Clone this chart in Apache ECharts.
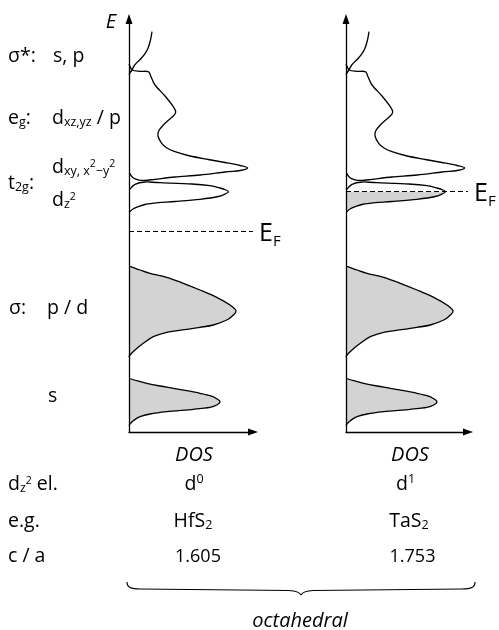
<!DOCTYPE html>
<html><head><meta charset="utf-8">
<script src="https://cdn.jsdelivr.net/npm/echarts@6/dist/echarts.min.js"></script>
<style>html,body{margin:0;padding:0;background:#fff}#c{width:499px;height:630px}</style>
</head><body><div id="c"></div>
<script>
const FONT = '"Open Sans", sans-serif';

// ---- data: [DOS, E] in arbitrary schematic units ----
const sigmaStarCurve = [[0,357.5],[3.3,362.7],[5.7,367],[9,370.5],[12.3,373.7],[16,378.3],[19,383.7],[21.5,392],[23,400.3]];
const egT2gCurve = [[0,368],[3.3,362],[11,360.7],[19.3,360.3],[22,355.3],[26,347],[36,336],[44.3,325.3],[46.7,320],[44.3,316],[36,308.7],[29.7,301],[29,296],[32.7,288.7],[38,284],[46,280.3],[61,276],[79.3,272.5],[96,269.5],[111,266.5],[118.7,264],[111,261.5],[96,260],[71,257],[46,255],[26,252.7],[16,251.7],[9,252.2],[4,254.2],[0.7,258.5]];
const dz2Curve = [[0.7,242.5],[6,247.7],[16,250],[31,249.3],[62.7,248],[81,246.3],[91,244],[97,242],[99.5,240.3],[97,238.5],[89.3,235.5],[71,232.7],[46,230.5],[29.3,229.3],[16,227.5],[9.3,225.3],[4,223],[0.7,220.3]];
const sigmaBandCurve = [[0,166],[11,162],[21,158.7],[37.7,154.7],[54.3,148.7],[71,142],[87.7,134.7],[101,127],[107,121.3],[104.3,117],[97.7,112],[84.3,107],[71,104.7],[57.7,102.7],[37.7,99.7],[24.3,95.3],[14.3,88.7],[6,82],[1,77],[0,74.7]];
const sBandCurve = [[0,53.7],[7.7,51.3],[17.7,48.7],[31,46],[44.3,43.7],[57.7,41.3],[71,38.7],[81,36.3],[87.7,33.3],[91,30.3],[87.7,27],[81,24.7],[64.3,22.7],[37.7,20.3],[21,18],[11,15.3],[4.3,11.3],[1,8],[0,6.3]];
const fermiLevels = [200.3, 240.3];          // E_F per panel
const panelDosMax = [124, 122];
const dz2Electrons = ['0', '1'];              // d^0, d^1
const exampleCompounds = ['Hf', 'Ta'];        // HfS2, TaS2
const caRatios = ['1.605', '1.753'];
const rowLabels = ['{m|d}{b|z}{bs|2}{m| el.}', '{m|e.g.}', '{m|c / a}'];
const leftLabels = [
  ['{m|σ*:}', '{m|s, p}'],
  ['{m|e}{b|g}{m|:}', '{m|d}{b|xz,yz}{m| / p}'],
  ['{m|t}{b|2g}{m|:}', '{m|d}{b|xy, x}{bs|2}{b|−y}{bs|2}', '{m|d}{b|z}{bs|2}'],
  ['{m|σ:}', '{m|p / d}'],
  ['{m|s}']
];

const chart = echarts.init(document.getElementById('c'), null, {renderer: 'canvas'});

const RICH = {
  m:  {fontSize: 19.5, lineHeight: 22, fontFamily: FONT, color: '#000'},
  n:  {fontSize: 18, lineHeight: 22, fontFamily: FONT, color: '#000'},
  b:  {fontSize: 12.5, lineHeight: 14, verticalAlign: 'bottom', fontFamily: FONT, color: '#000'},
  t:  {fontSize: 12.5, lineHeight: 12, verticalAlign: 'top', fontFamily: FONT, color: '#000'},
  bs: {fontSize: 10.5, lineHeight: 16, verticalAlign: 'middle', padding: [0, 0, 6, 0], fontFamily: FONT, color: '#000'}
};

function bez(P, i0, i1) {
  let d = '';
  for (let i = i0; i < i1; i++) {
    const p0 = P[Math.max(i - 1, 0)], p1 = P[i], p2 = P[i + 1], p3 = P[Math.min(i + 2, P.length - 1)];
    const c1 = [p1[0] + (p2[0] - p0[0]) / 6, p1[1] + (p2[1] - p0[1]) / 6];
    const c2 = [p2[0] - (p3[0] - p1[0]) / 6, p2[1] - (p3[1] - p1[1]) / 6];
    d += ' C' + c1[0] + ',' + c1[1] + ' ' + c2[0] + ',' + c2[1] + ' ' + p2[0] + ',' + p2[1];
  }
  return d;
}

function bandSeries(panel, curve, fillMode, extra) {
  const s = {
    type: 'custom',
    xAxisIndex: panel, yAxisIndex: panel,
    data: curve,
    silent: true,
    renderItem: function (params, api) {
      if (params.dataIndex !== 0) return null;
      const P = curve.map(p => api.coord(p));
      const children = [];
      const n = P.length;
      if (fillMode !== 'none') {
        let d;
        const a1 = api.coord([0, curve[n - 1][1]]);
        if (fillMode === 'full') {
          const a0 = api.coord([0, curve[0][1]]);
          d = 'M' + a0[0] + ',' + a0[1] + ' L' + P[0][0] + ',' + P[0][1] + bez(P, 0, n - 1) + ' L' + a1[0] + ',' + a1[1] + ' Z';
        } else {
          const ef = fermiLevels[panel];
          const k = curve.findIndex(p => p[1] <= ef);
          const a0 = api.coord([0, ef]);
          d = 'M' + a0[0] + ',' + a0[1] + ' L' + P[k][0] + ',' + P[k][1] + bez(P, k, n - 1) + ' L' + a1[0] + ',' + a1[1] + ' Z';
        }
        children.push({type: 'path', shape: {pathData: d}, style: {fill: '#d3d3d3', stroke: 'none'}});
      }
      children.push({type: 'path', shape: {pathData: 'M' + P[0][0] + ',' + P[0][1] + bez(P, 0, n - 1)},
        style: {fill: 'none', stroke: '#000', lineWidth: 1.3}});
      return {type: 'group', children: children};
    }
  };
  return Object.assign(s, extra || {});
}

function efMarkLine(panel) {
  return {
    markLine: {
      silent: true, symbol: ['none', 'none'], animation: false,
      lineStyle: {type: [5, 3], color: '#000', width: 1},
      label: {show: true, position: 'end', distance: 6, formatter: '{e|E}{f|F}', padding: [4.6, 0, 0, 0],
        rich: {e: {fontSize: 25, lineHeight: 30, fontFamily: FONT, color: '#000'},
               f: {fontSize: 15, lineHeight: 13, verticalAlign: 'bottom', fontFamily: FONT, color: '#000'}}},
      emphasis: {disabled: true},
      data: [{yAxis: fermiLevels[panel]}]
    }
  };
}

const series = [];
[0, 1].forEach(function (p) {
  series.push(bandSeries(p, sBandCurve, 'full'));
  series.push(bandSeries(p, sigmaBandCurve, 'full'));
  series.push(bandSeries(p, dz2Curve, p === 1 ? 'below' : 'none', efMarkLine(p)));
  series.push(bandSeries(p, egT2gCurve, 'none'));
  series.push(bandSeries(p, sigmaStarCurve, 'none'));
});

function axisLineCfg() {
  return {show: true, onZero: false, symbol: ['none', 'triangle'], symbolSize: [7, 10], lineStyle: {color: '#000', width: 1.3}};
}

const xAxes = [0, 1].map(function (i) {
  return {gridIndex: i, type: 'value', min: 0, max: panelDosMax[i], z: 10,
    axisLine: axisLineCfg(), axisTick: {show: false}, axisLabel: {show: false}, splitLine: {show: false},
    name: 'DOS', nameLocation: 'middle', nameGap: 13,
    nameTextStyle: {fontStyle: 'italic', fontSize: 20, fontFamily: FONT, color: '#000', padding: [0, 0, 0, 6]}};
});
const yAxes = [0, 1].map(function (i) {
  const a = {gridIndex: i, type: 'value', min: 0, max: 413, z: 10,
    axisLine: axisLineCfg(), axisTick: {show: false}, axisLabel: {show: false}, splitLine: {show: false}};
  if (i === 0) {
    a.name = 'E'; a.nameLocation = 'end'; a.nameGap = -3.5;
    a.nameTextStyle = {fontStyle: 'italic', fontSize: 20, fontFamily: FONT, color: '#000', align: 'right', verticalAlign: 'middle', padding: [0, 13, 0, 0]};
  }
  return a;
});

function txt(x, y, text, align, extra) {
  return {type: 'text', x: x, y: y, silent: true,
    style: Object.assign({text: text, fill: '#000', fontSize: 19.5, fontFamily: FONT, align: align || 'left', verticalAlign: 'middle', rich: RICH}, extra || {})};
}
function bzc(x1, y1, c1x, c1y, c2x, c2y, x2, y2) {
  return {type: 'bezierCurve', silent: true,
    shape: {x1: x1, y1: y1, cpx1: c1x, cpy1: c1y, cpx2: c2x, cpy2: c2y, x2: x2, y2: y2},
    style: {fill: 'none', stroke: '#000', lineWidth: 1.2}};
}
function seg(x1, y1, x2, y2) {
  return {type: 'line', silent: true, shape: {x1: x1, y1: y1, x2: x2, y2: y2}, style: {stroke: '#000', lineWidth: 1.2}};
}

const els = [
  txt(8, 56, leftLabels[0][0]), txt(53, 56, leftLabels[0][1]),
  txt(8, 118, leftLabels[1][0]), txt(52, 118, leftLabels[1][1]),
  txt(8, 183, leftLabels[2][0]), txt(52, 167, leftLabels[2][1]), txt(52, 200, leftLabels[2][2]),
  txt(9, 308, leftLabels[3][0]), txt(47, 308, leftLabels[3][1]),
  txt(48, 396, leftLabels[4][0]),
  txt(8, 484, rowLabels[0]), txt(8, 521, rowLabels[1]), txt(8, 556, rowLabels[2]),
  txt(194, 484, '{m|d}{t|' + dz2Electrons[0] + '}', 'center'),
  txt(405.5, 484, '{m|d}{t|' + dz2Electrons[1] + '}', 'center'),
  txt(193, 521, '{m|' + exampleCompounds[0] + 'S}{b|2}', 'center'),
  txt(409, 521, '{m|' + exampleCompounds[1] + 'S}{b|2}', 'center'),
  txt(198, 557, '{n|' + caRatios[0] + '}', 'center'),
  txt(412.5, 557, '{n|' + caRatios[1] + '}', 'center'),
  txt(300, 621, 'octahedral', 'center', {fontStyle: 'italic', fontSize: 20, rich: null}),
  // curly brace
  bzc(127, 582, 127, 587.5, 131, 589, 140, 589),
  seg(140, 589, 289, 590.5),
  bzc(289, 590.5, 296, 590.8, 299.5, 592, 301, 595),
  bzc(301, 595, 302.5, 592, 306, 590.8, 313, 590.5),
  seg(313, 590.5, 462, 589),
  bzc(462, 589, 471, 589, 475, 587.5, 475, 582)
];

chart.setOption({
  animation: false,
  backgroundColor: '#fff',
  grid: [
    {left: 129, top: 19, width: panelDosMax[0], height: 413, containLabel: false, outerBoundsMode: 'none'},
    {left: 346, top: 19, width: panelDosMax[1], height: 413, containLabel: false, outerBoundsMode: 'none'}
  ],
  xAxis: xAxes,
  yAxis: yAxes,
  series: series,
  graphic: {elements: els}
});
</script></body></html>
